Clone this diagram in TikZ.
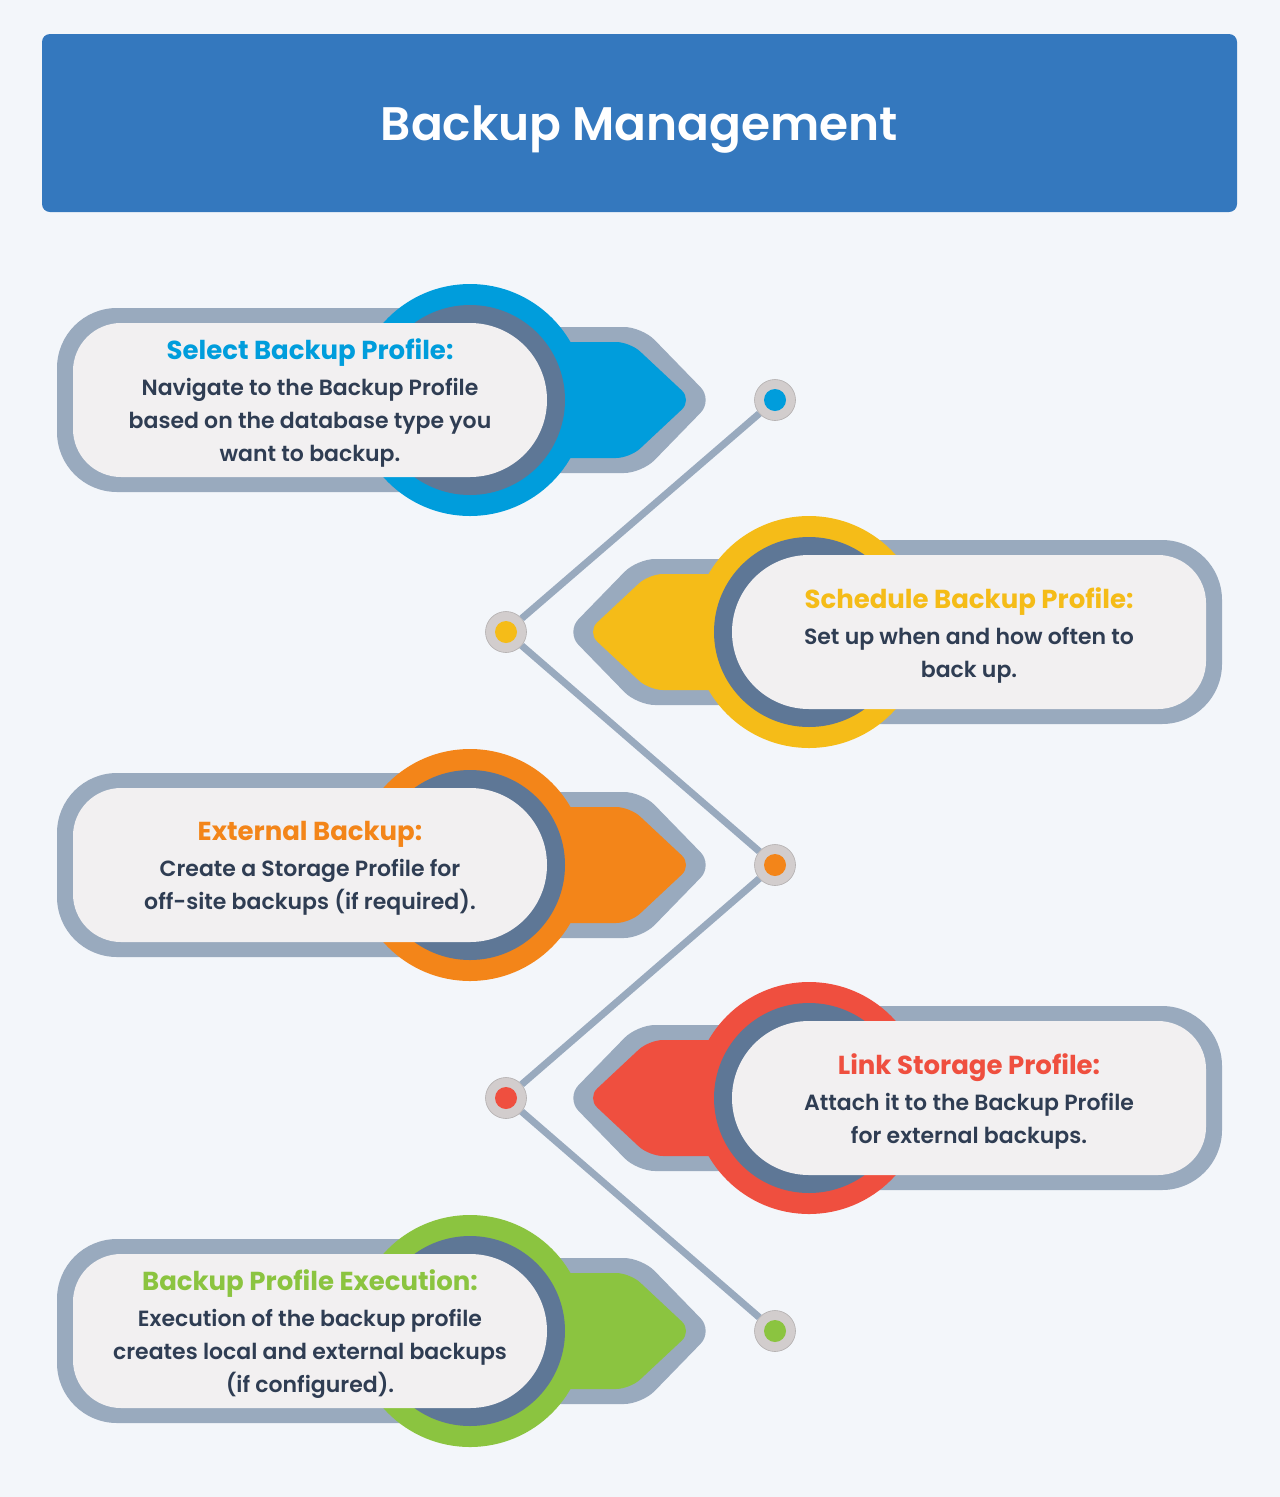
\documentclass[tikz,border=0pt]{standalone}
\usepackage{fontspec}
\setmainfont{Poppins}
\newfontfamily\popmedium{Poppins Medium}
\newfontfamily\popsemi{Poppins SemiBold}
\newfontfamily\popbold{Poppins Bold}
\usetikzlibrary{positioning}

\definecolor{bgcol}{HTML}{F3F6FA}
\definecolor{headblue}{HTML}{3478BE}
\definecolor{stepblue}{HTML}{009DDC}
\definecolor{stepyellow}{HTML}{F5BC18}
\definecolor{steporange}{HTML}{F38519}
\definecolor{stepred}{HTML}{EF4F3F}
\definecolor{stepgreen}{HTML}{8BC440}
\definecolor{ringcol}{HTML}{5E7796}
\definecolor{rimgray}{HTML}{99AABE}
\definecolor{pillcol}{HTML}{F2F0F1}
\definecolor{textcol}{HTML}{2F3D53}
\definecolor{dotgray}{HTML}{D2CDCD}

\newcommand\headfont{\popbold\fontsize{26}{33}\selectfont}

\tikzset{
  link/.style={rimgray, line width=7pt},
  dot/.style={circle, minimum size=41pt, inner sep=0pt, fill=dotgray, draw=dotgray!85!black, line width=0.6pt},
  steptext/.style={align=center, text=textcol, font=\popsemi\fontsize{22}{33}\selectfont}
}

% one step: rim, arrow tab, ring and pill, circle centre at x=470
\newcommand\stepshape[2]{
  \begin{scope}[shift={(0,#1)}]
    \fill[rimgray, rounded corners=60] (57,-92) rectangle (470,92);
    \fill[rimgray, rounded corners=18] (470,-73) -- (642,-73) -- (713,0) -- (642,73) -- (470,73) -- cycle;
    \fill[#2, rounded corners=14] (470,-58) -- (630,-58) -- (692,0) -- (630,58) -- (470,58) -- cycle;
    \fill[#2] (470,0) circle (116);
    \fill[ringcol] (470,0) circle (95);
    \fill[pillcol] (121,-77) -- (470,-77) arc[start angle=-90, end angle=90, radius=77]
      -- (121,77) arc[start angle=90, end angle=180, radius=48]
      -- (73,-29) arc[start angle=180, end angle=270, radius=48] -- cycle;
  \end{scope}
}

\begin{document}
\begin{tikzpicture}[x=1pt, y=-1pt]
  \fill[bgcol] (0,0) rectangle (1280,1497);
  \useasboundingbox (0,0) rectangle (1280,1497);

  \fill[headblue, rounded corners=8] (42,34) rectangle (1237,212);
  \node[anchor=base, text=white, font=\popsemi\fontsize{47}{50}\selectfont] (title) at (639.5,140) {Backup Management};

  \stepshape{400}{stepblue}
  \begin{scope}[shift={(1279,0)}, xscale=-1]
    \stepshape{632}{stepyellow}
  \end{scope}
  \stepshape{865}{steporange}
  \begin{scope}[shift={(1279,0)}, xscale=-1]
    \stepshape{1098}{stepred}
  \end{scope}
  \stepshape{1331}{stepgreen}

  \node[steptext] (t1) at (310,403) {{\headfont\color{stepblue}Select Backup Profile:}\\[3pt]
    Navigate to the Backup Profile\\based on the database type you\\want to backup.};
  \node[steptext] (t2) at (969,635) {{\headfont\color{stepyellow}Schedule Backup Profile:}\\[3pt]
    Set up when and how often to\\back up.};
  \node[steptext] (t3) at (310,868) {{\headfont\color{steporange}External Backup:}\\[3pt]
    Create a Storage Profile for\\off-site backups (if required).};
  \node[steptext] (t4) at (969,1101) {{\headfont\color{stepred}Link Storage Profile:}\\[3pt]
    Attach it to the Backup Profile\\for external backups.};
  \node[steptext] (t5) at (310,1334) {{\headfont\color{stepgreen}Backup Profile Execution:}\\[3pt]
    Execution of the backup profile\\creates local and external backups\\(if configured).};

  \node[dot] (d1) at (775,400) {};
  \node[dot] (d2) at (506,632) {};
  \node[dot] (d3) at (775,865) {};
  \node[dot] (d4) at (506,1098) {};
  \node[dot] (d5) at (775,1331) {};
  \draw[link] (d1) -- (d2) -- (d3) -- (d4) -- (d5);

  \fill[stepblue] (d1) circle (11);
  \fill[stepyellow] (d2) circle (11);
  \fill[steporange] (d3) circle (11);
  \fill[stepred] (d4) circle (11);
  \fill[stepgreen] (d5) circle (11);
\end{tikzpicture}
\end{document}
